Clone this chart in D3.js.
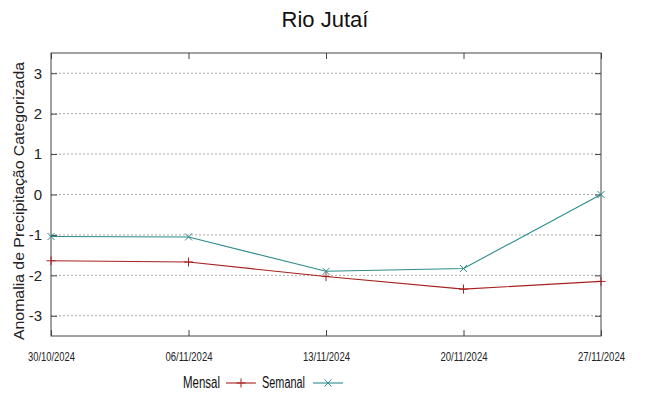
<!DOCTYPE html>
<html>
<head>
<meta charset="utf-8">
<script src="https://cdn.jsdelivr.net/npm/d3@7"></script>
<style>
  body { margin: 0; background: #fff; }
  svg { font-family: "Liberation Sans", Arial, sans-serif; }
</style>
</head>
<body>
<svg id="chart"></svg>
<script>
const dates = ["30/10/2024", "06/11/2024", "13/11/2024", "20/11/2024", "27/11/2024"];
const mensal = [-1.64, -1.67, -2.03, -2.34, -2.15];
const semanal = [-1.04, -1.05, -1.9, -1.83, 0];
const yTicks = [-3, -2, -1, 0, 1, 2, 3];

const width = 649, height = 396;
const margin = { top: 53, right: 48, bottom: 60, left: 51 };

const svg = d3.select("#chart").attr("width", width).attr("height", height);

const parse = d3.timeParse("%d/%m/%Y");
const x = d3.scaleTime()
  .domain([parse(dates[0]), parse(dates[dates.length - 1])])
  .range([margin.left, width - margin.right]);
const y = d3.scaleLinear()
  .domain([-3.5, 3.5])
  .range([height - margin.bottom, margin.top]);

// grid
svg.append("g")
  .selectAll("line")
  .data(yTicks)
  .enter()
  .append("line")
  .attr("x1", margin.left)
  .attr("x2", width - margin.right)
  .attr("y1", d => y(d))
  .attr("y2", d => y(d))
  .attr("stroke", "#aaa")
  .attr("stroke-width", 1)
  .attr("stroke-dasharray", "2,2");

// frame
svg.append("rect")
  .attr("x", margin.left)
  .attr("y", margin.top)
  .attr("width", width - margin.left - margin.right)
  .attr("height", height - margin.top - margin.bottom)
  .attr("fill", "none")
  .attr("stroke", "#444")
  .attr("stroke-width", 1);

// axes (inward ticks, mirrored)
const tickDates = dates.map(parse);
const fmt = d3.timeFormat("%d/%m/%Y");
svg.append("g")
  .attr("transform", `translate(0,${height - margin.bottom})`)
  .call(d3.axisBottom(x).tickValues(tickDates).tickFormat(fmt).tickSizeInner(-6).tickSizeOuter(0).tickPadding(16))
  .call(g => g.select(".domain").remove())
  .call(g => g.selectAll("line").attr("stroke", "#444"))
  .call(g => g.selectAll("text")
    .attr("fill", "#222")
    .attr("textLength", 47)
    .attr("lengthAdjust", "spacingAndGlyphs")
    .style("font-family", "'Liberation Sans', Arial, sans-serif")
    .style("font-size", "13px"));
svg.append("g")
  .attr("transform", `translate(0,${margin.top})`)
  .call(d3.axisTop(x).tickValues(tickDates).tickFormat("").tickSizeInner(-6).tickSizeOuter(0))
  .call(g => g.select(".domain").remove())
  .call(g => g.selectAll("line").attr("stroke", "#444"));
svg.append("g")
  .attr("transform", `translate(${margin.left},0)`)
  .call(d3.axisLeft(y).tickValues(yTicks).tickFormat(d => String(d)).tickSizeInner(-6).tickSizeOuter(0).tickPadding(9))
  .call(g => g.select(".domain").remove())
  .call(g => g.selectAll("line").attr("stroke", "#444"))
  .call(g => g.selectAll("text").attr("fill", "#222").style("font-family", "'Liberation Sans', Arial, sans-serif").style("font-size", "15px"));
svg.append("g")
  .attr("transform", `translate(${width - margin.right},0)`)
  .call(d3.axisRight(y).tickValues(yTicks).tickFormat("").tickSizeInner(-6).tickSizeOuter(0))
  .call(g => g.select(".domain").remove())
  .call(g => g.selectAll("line").attr("stroke", "#444"));

// series
const series = [
  { name: "Mensal", values: mensal, color: "#a82020", marker: "plus" },
  { name: "Semanal", values: semanal, color: "#2e8b8b", marker: "cross" }
];

const line = d3.line().x((d, i) => x(tickDates[i])).y(d => y(d));

function marker(g, type, cx, cy, color) {
  const s = type === "plus" ? 4.5 : 3.5;
  const p = type === "plus"
    ? `M${cx - s},${cy}H${cx + s}M${cx},${cy - s}V${cy + s}`
    : `M${cx - s},${cy - s}L${cx + s},${cy + s}M${cx - s},${cy + s}L${cx + s},${cy - s}`;
  g.append("path").attr("d", p).attr("stroke", color).attr("stroke-width", 1).attr("fill", "none");
}

series.forEach(s => {
  svg.append("path")
    .datum(s.values)
    .attr("d", line)
    .attr("fill", "none")
    .attr("stroke", s.color)
    .attr("stroke-width", 1.1);
  const g = svg.append("g");
  s.values.forEach((v, i) => marker(g, s.marker, x(tickDates[i]), y(v), s.color));
});

// title
svg.append("text")
  .attr("x", width / 2 + 0.5)
  .attr("y", 27)
  .attr("text-anchor", "middle")
  .attr("fill", "#111")
  .style("font-size", "22px")
  .text("Rio Jutaí");

// y label
svg.append("text")
  .attr("transform", `translate(24,201) rotate(-90)`)
  .attr("text-anchor", "middle")
  .attr("fill", "#222")
  .attr("textLength", 278)
  .attr("lengthAdjust", "spacingAndGlyphs")
  .style("font-size", "15.4px")
  .text("Anomalia de Precipitação Categorizada");

// legend
const leg = svg.append("g").style("font-size", "16px");
const legItems = [
  { s: series[0], textStart: 183, textLen: 37, lineStart: 226 },
  { s: series[1], textStart: 262, textLen: 43, lineStart: 313 }
];
const ly = 383;
legItems.forEach(it => {
  leg.append("text")
    .attr("x", it.textStart)
    .attr("y", 388)
    .attr("textLength", it.textLen)
    .attr("lengthAdjust", "spacingAndGlyphs")
    .attr("fill", "#111")
    .text(it.s.name);
  leg.append("line")
    .attr("x1", it.lineStart)
    .attr("x2", it.lineStart + 30)
    .attr("y1", ly)
    .attr("y2", ly)
    .attr("stroke", it.s.color)
    .attr("stroke-width", 1.1);
  marker(leg, it.s.marker, it.lineStart + 15, ly, it.s.color);
});
</script>
</body>
</html>
